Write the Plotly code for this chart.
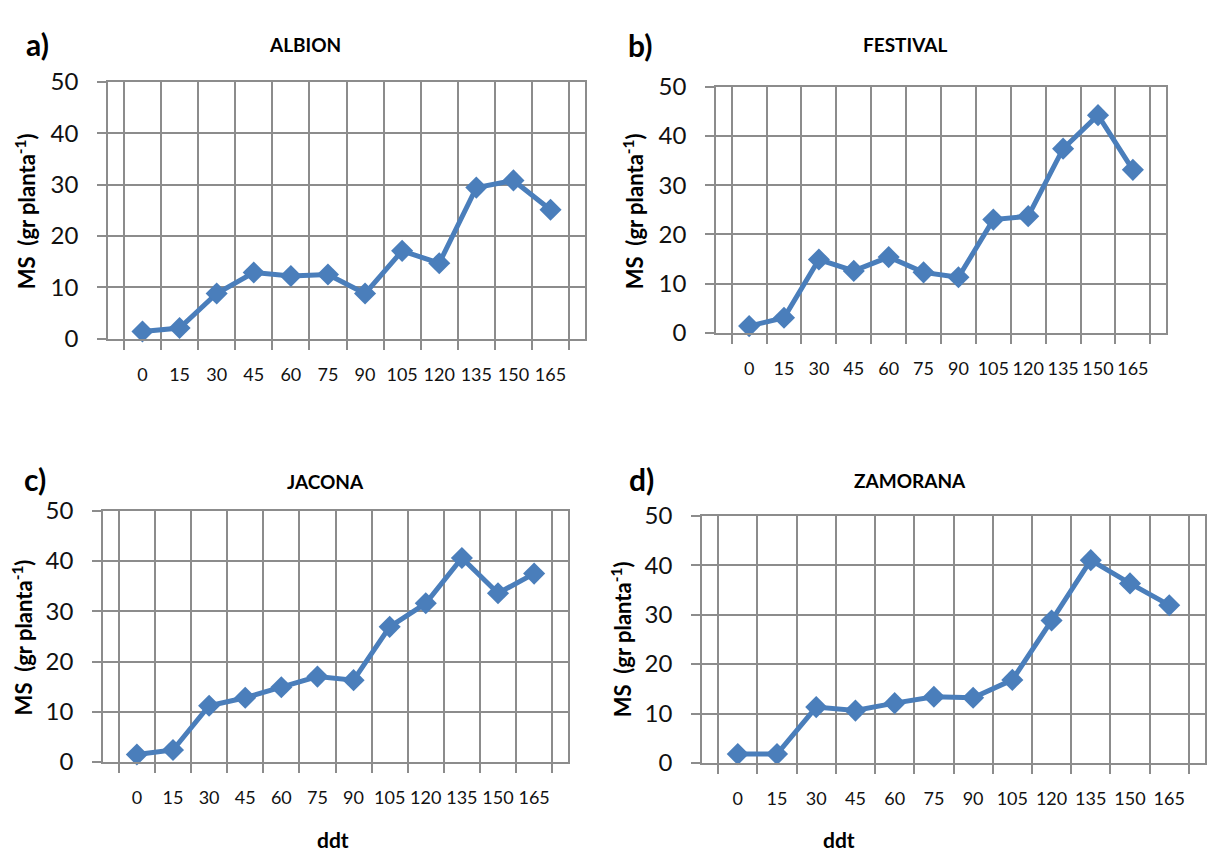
import plotly.graph_objects as go

# Days after transplant (category labels)
ddt = ["0", "15", "30", "45", "60", "75", "90", "105", "120", "135", "150", "165"]

# Dry matter per plant (g) for each cultivar
albion = [1.4, 2.1, 8.8, 12.9, 12.2, 12.5, 8.8, 17.1, 14.7, 29.4, 30.8, 25.1]
festival = [1.4, 3.1, 14.9, 12.6, 15.4, 12.3, 11.3, 23.0, 23.7, 37.4, 44.2, 33.1]
jacona = [1.5, 2.4, 11.2, 12.8, 14.9, 17.0, 16.3, 26.9, 31.6, 40.6, 33.6, 37.5]
zamorana = [1.8, 1.8, 11.3, 10.6, 12.1, 13.4, 13.2, 16.8, 28.8, 41.0, 36.3, 31.9]

W, H = 1207, 863
BLUE = "#4A7EBB"
GRID = "#8C8C8C"
FONT = "Lato"

panels = [
    # series, plot box (left, right, top, bottom) in px
    (albion, (108, 585, 68, 334)),
    (festival, (716, 1166, 73, 328)),
    (jacona, (103, 568, 512, 772)),
    (zamorana, (702, 1205, 517, 773)),
]

fig = go.Figure()
annotations = []
layout_axes = {}

for i, (vals, (l, r, t, b)) in enumerate(panels, start=1):
    xa = "x" if i == 1 else f"x{i}"
    ya = "y" if i == 1 else f"y{i}"
    fig.add_trace(go.Scatter(
        x=ddt, y=vals, mode="lines+markers", xaxis=xa, yaxis=ya,
        line=dict(color=BLUE, width=5),
        marker=dict(symbol="diamond", size=17, color=BLUE),
        showlegend=False, cliponaxis=False,
    ))
    xkey = "xaxis" if i == 1 else f"xaxis{i}"
    ykey = "yaxis" if i == 1 else f"yaxis{i}"
    layout_axes[xkey] = dict(
        domain=[l / W, r / W], anchor=ya, type="category",
        categoryorder="array", categoryarray=ddt,
        tickson="boundaries", ticks="outside", ticklen=9, tickwidth=1.5,
        tickcolor=GRID, showgrid=True, gridcolor=GRID, gridwidth=1.5,
        showline=True, linecolor=GRID, linewidth=1.5, mirror=True,
        tickangle=0,
        tickfont=dict(family=FONT, size=18, color="#111"),
        ticklabelstandoff=19, fixedrange=True,
    )
    layout_axes[ykey] = dict(
        domain=[1 - b / H, 1 - t / H], anchor=xa, range=[0, 50], dtick=10,
        ticks="outside", ticklen=9, tickwidth=1.5, tickcolor=GRID,
        showgrid=True, gridcolor=GRID, gridwidth=1.5,
        showline=True, linecolor=GRID, linewidth=1.5, mirror=True,
        zeroline=False,
        tickfont=dict(family=FONT, size=24, color="#111"),
        ticklabelstandoff=14, fixedrange=True,
    )

# Panel letters, titles, axis titles
texts = [
    ("a)", 37, 29, 30), ("b)", 640, 30, 30), ("c)", 35, 479, 30), ("d)", 641, 479, 30),
    ("ALBION", 305, 29, 19), ("FESTIVAL", 905, 30, 19),
    ("JACONA", 325, 482, 19), ("ZAMORANA", 910, 481, 19),
    ("ddt", 333, 852, 21), ("ddt", 839, 852, 21),
]
for txt, x, y, size in texts:
    annotations.append(dict(
        text=f"<b>{txt}</b>", x=x / W, y=1 - y / H, xref="paper", yref="paper",
        showarrow=False, xanchor="center", yanchor="middle",
        font=dict(family=FONT, size=size, color="#000"),
    ))

ytitle = "<b>MS  (gr planta<sup>-1</sup>)</b>"
for x, y in [(25, 202), (633, 202), (22, 643), (621, 645)]:
    annotations.append(dict(
        text=ytitle, x=x / W, y=1 - y / H, xref="paper", yref="paper",
        showarrow=False, textangle=-90, xanchor="center", yanchor="middle",
        font=dict(family=FONT, size=22, color="#000"),
    ))

fig.update_layout(
    width=W, height=H, margin=dict(l=0, r=0, t=0, b=0),
    paper_bgcolor="white", plot_bgcolor="white",
    annotations=annotations, **layout_axes,
)

fig.write_html("out.html")
